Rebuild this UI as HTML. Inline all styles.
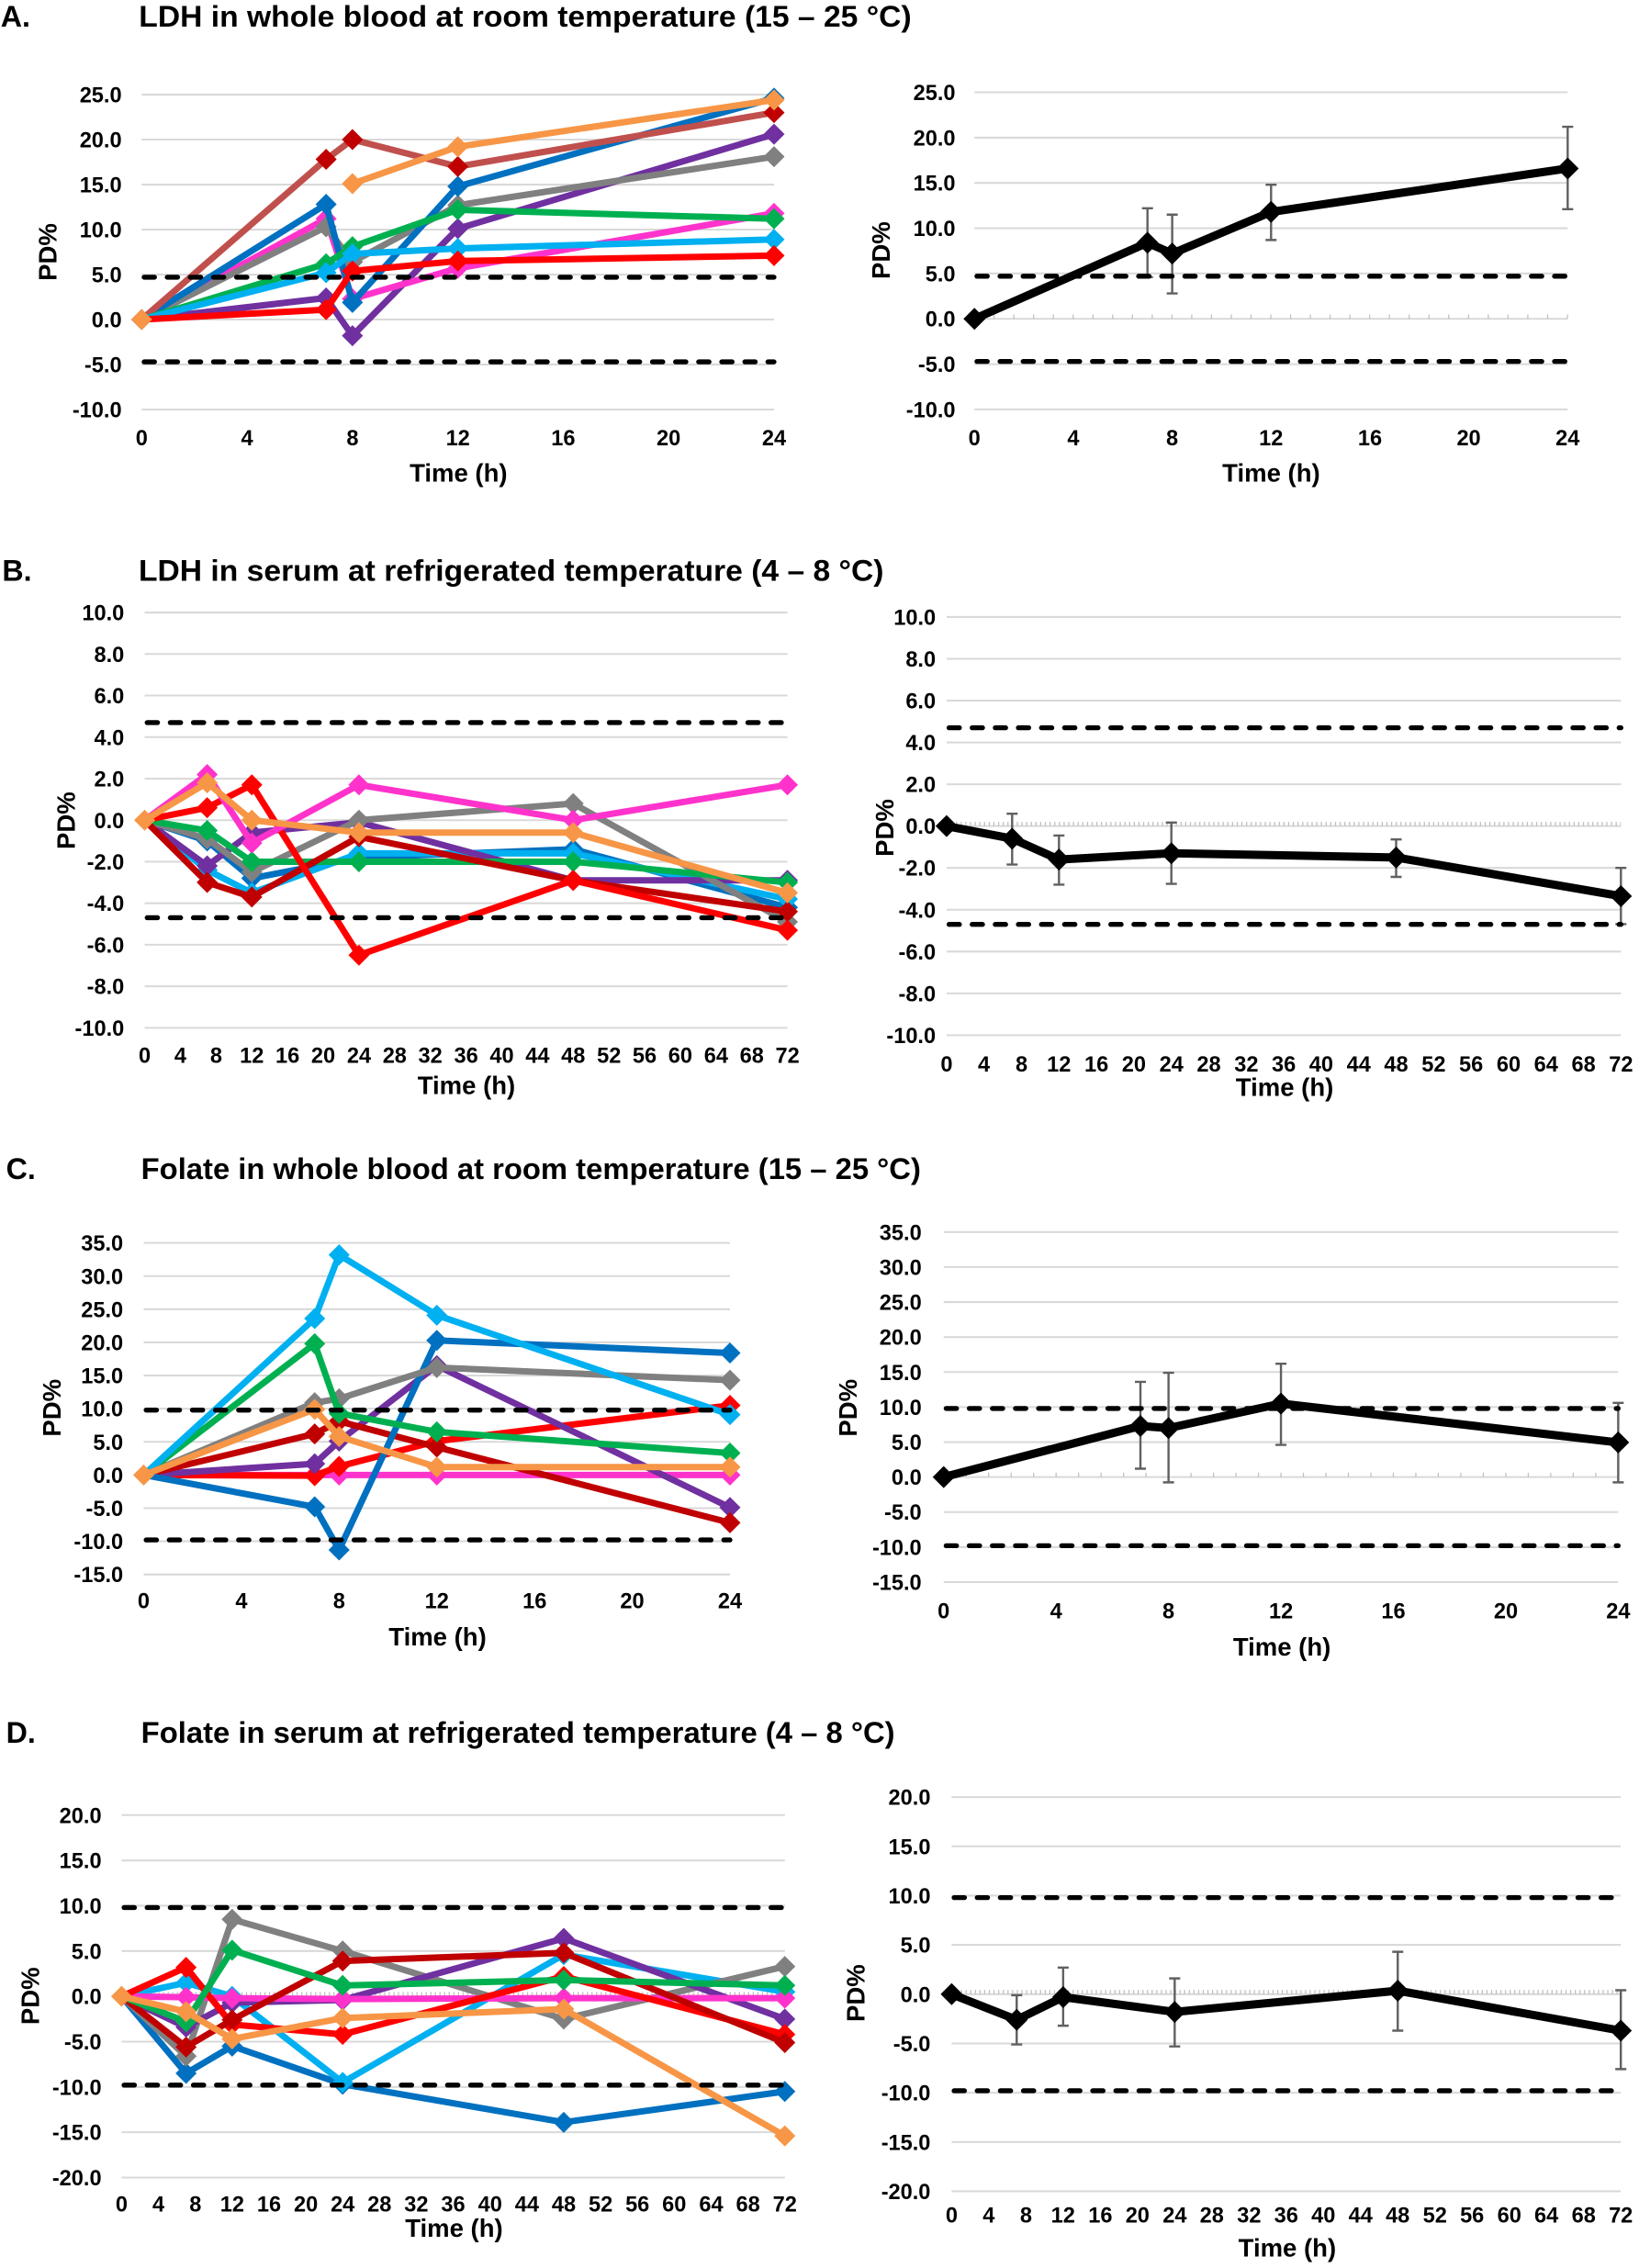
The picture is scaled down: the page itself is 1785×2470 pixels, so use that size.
<!DOCTYPE html>
<html><head><meta charset="utf-8">
<style>
html,body{margin:0;padding:0;background:#fff;}
svg{display:block}
text{font-family:"Liberation Sans",Arial,sans-serif;font-weight:bold;fill:#000}
.tk{font-size:15px}
.yl text{text-anchor:end}
.xl text{text-anchor:middle}
.ttl{font-size:20.5px}
.ax{font-size:17.5px;text-anchor:middle}
.grid{stroke:#D9D9D9;stroke-width:1.3;fill:none}
.dash{stroke:#000;stroke-width:3.4;stroke-dasharray:7.2 8.8;stroke-linecap:round;fill:none}
.s polyline{fill:none;vector-effect:non-scaling-stroke;stroke-width:7px;stroke-linejoin:round;stroke-linecap:round}
.m polyline{fill:none;vector-effect:non-scaling-stroke;stroke-width:9px;stroke-linejoin:round;stroke:#000}
.eb{fill:none;vector-effect:non-scaling-stroke;stroke:#606060;stroke-width:2.4px}
</style></head><body>
<svg width="1785" height="2470" viewBox="0 0 1785 2470" xmlns="http://www.w3.org/2000/svg" xmlns:xlink="http://www.w3.org/1999/xlink">
<defs>
<path id="mA" d="M-0.4008 0L0 1.1735 0.4008 0 0 -1.1735Z"/>
<path id="mB" d="M-1.1829 0L0 0.5085 1.1829 0 0 -0.5085Z"/>
<path id="mC" d="M-0.4322 0L0 1.5926 0.4322 0 0 -1.5926Z"/>
<path id="mD" d="M-1.1463 0L0 1.1654 1.1463 0 0 -1.1654Z"/>
<path id="rA" d="M-0.4458 0L0 1.2163 0.4458 0 0 -1.2163Z"/>
<path id="rB" d="M-1.1765 0L0 0.5269 1.1765 0 0 -0.5269Z"/>
<path id="rC" d="M-0.3920 0L0 1.5740 0.3920 0 0 -1.5740Z"/>
<path id="rD" d="M-1.1855 0L0 1.1180 1.1855 0 0 -1.1180Z"/>
</defs>
<rect width="1785" height="2470" fill="#fff"/>
<g transform="scale(1.572687 1.573248)">

<!-- ================= TITLES ================= -->
<text class="ttl" x="0.5" y="18.5">A.</text>
<text class="ttl" x="96.2" y="18.5" textLength="535" lengthAdjust="spacingAndGlyphs">LDH in whole blood at room temperature (15 – 25 °C)</text>
<text class="ttl" x="1.5" y="402">B.</text>
<text class="ttl" x="96" y="402" textLength="516" lengthAdjust="spacingAndGlyphs">LDH in serum at refrigerated temperature (4 – 8 °C)</text>
<text class="ttl" x="4.2" y="816">C.</text>
<text class="ttl" x="97.7" y="816" textLength="540" lengthAdjust="spacingAndGlyphs">Folate in whole blood at room temperature (15 – 25 °C)</text>
<text class="ttl" x="4.2" y="1206.5">D.</text>
<text class="ttl" x="97.7" y="1206.5" textLength="522" lengthAdjust="spacingAndGlyphs">Folate in serum at refrigerated temperature (4 – 8 °C)</text>

<!-- ================= PANEL A LEFT ================= -->
<path class="grid" d="M98.1 65.5H536M98.1 96.6H536M98.1 127.8H536M98.1 158.9H536M98.1 190.1H536M98.1 221.2H536M98.1 252.3H536M98.1 283.5H536"/>
<g class="tk yl">
<text x="84.3" y="70.9">25.0</text><text x="84.3" y="102">20.0</text><text x="84.3" y="133.2">15.0</text><text x="84.3" y="164.3">10.0</text><text x="84.3" y="195.5">5.0</text><text x="84.3" y="226.6">0.0</text><text x="84.3" y="257.7">-5.0</text><text x="84.3" y="288.9">-10.0</text>
</g>
<g class="tk xl">
<text x="98.1" y="308.4">0</text><text x="171.1" y="308.4">4</text><text x="244.1" y="308.4">8</text><text x="317.1" y="308.4">12</text><text x="390" y="308.4">16</text><text x="463" y="308.4">20</text><text x="536" y="308.4">24</text>
</g>
<text class="ax" x="317.5" y="333.3">Time (h)</text>
<text class="ax" transform="translate(32.7 174.5) rotate(-90)" y="6.3">PD%</text>

<!-- ================= PANEL A RIGHT ================= -->
<path class="grid" d="M674.8 63.9H1085.6M674.8 95.3H1085.6M674.8 126.6H1085.6M674.8 158H1085.6M674.8 189.3H1085.6M674.8 220.7H1085.6M674.8 252.1H1085.6M674.8 283.4H1085.6"/>
<path d="M674.3 219.2H1086.1" stroke="#BFBFBF" stroke-width="3" stroke-dasharray="0.8 12.89" fill="none"/>
<g class="tk yl">
<text x="661.6" y="69.3">25.0</text><text x="661.6" y="100.7">20.0</text><text x="661.6" y="132">15.0</text><text x="661.6" y="163.4">10.0</text><text x="661.6" y="194.7">5.0</text><text x="661.6" y="226.1">0.0</text><text x="661.6" y="257.5">-5.0</text><text x="661.6" y="288.8">-10.0</text>
</g>
<g class="tk xl">
<text x="674.8" y="308.4">0</text><text x="743.3" y="308.4">4</text><text x="811.7" y="308.4">8</text><text x="880.2" y="308.4">12</text><text x="948.7" y="308.4">16</text><text x="1017.1" y="308.4">20</text><text x="1085.6" y="308.4">24</text>
</g>
<text class="ax" x="880.3" y="333.3">Time (h)</text>
<text class="ax" transform="translate(609.8 173.3) rotate(-90)" y="6.3">PD%</text>

<!-- ================= PANEL B LEFT ================= -->
<path class="grid" d="M100.2 424H545.3M100.2 452.75H545.3M100.2 481.5H545.3M100.2 510.25H545.3M100.2 539H545.3M100.2 567.75H545.3M100.2 596.5H545.3M100.2 625.25H545.3M100.2 654H545.3M100.2 682.75H545.3M100.2 711.5H545.3"/>
<g class="tk yl">
<text x="86" y="429.4">10.0</text><text x="86" y="458.2">8.0</text><text x="86" y="486.9">6.0</text><text x="86" y="515.7">4.0</text><text x="86" y="544.4">2.0</text><text x="86" y="573.2">0.0</text><text x="86" y="601.9">-2.0</text><text x="86" y="630.7">-4.0</text><text x="86" y="659.4">-6.0</text><text x="86" y="688.2">-8.0</text><text x="86" y="716.9">-10.0</text>
</g>
<g class="tk xl">
<text x="100.2" y="735.8">0</text><text x="124.9" y="735.8">4</text><text x="149.7" y="735.8">8</text><text x="174.4" y="735.8">12</text><text x="199.1" y="735.8">16</text><text x="223.8" y="735.8">20</text><text x="248.6" y="735.8">24</text><text x="273.3" y="735.8">28</text><text x="298" y="735.8">32</text><text x="322.8" y="735.8">36</text><text x="347.5" y="735.8">40</text><text x="372.2" y="735.8">44</text><text x="396.9" y="735.8">48</text><text x="421.7" y="735.8">52</text><text x="446.4" y="735.8">56</text><text x="471.1" y="735.8">60</text><text x="495.9" y="735.8">64</text><text x="520.6" y="735.8">68</text><text x="545.3" y="735.8">72</text>
</g>
<text class="ax" x="323" y="757.3">Time (h)</text>
<text class="ax" transform="translate(45.5 568) rotate(-90)" y="6.3">PD%</text>

<!-- ================= PANEL B RIGHT ================= -->
<path class="grid" d="M655.5 427.1H1122.5M655.5 456.05H1122.5M655.5 485H1122.5M655.5 513.95H1122.5M655.5 542.9H1122.5M655.5 571.85H1122.5M655.5 600.8H1122.5M655.5 629.75H1122.5M655.5 658.7H1122.5M655.5 687.65H1122.5M655.5 716.6H1122.5"/>
<path d="M655.5 570.35H1122.5" stroke="#BFBFBF" stroke-width="3" stroke-dasharray="0.8 2.44" fill="none"/>
<g class="tk yl">
<text x="648" y="432.5">10.0</text><text x="648" y="461.5">8.0</text><text x="648" y="490.4">6.0</text><text x="648" y="519.4">4.0</text><text x="648" y="548.3">2.0</text><text x="648" y="577.3">0.0</text><text x="648" y="606.2">-2.0</text><text x="648" y="635.2">-4.0</text><text x="648" y="664.1">-6.0</text><text x="648" y="693.1">-8.0</text><text x="648" y="722">-10.0</text>
</g>
<g class="tk xl">
<text x="655.5" y="741.8">0</text><text x="681.4" y="741.8">4</text><text x="707.4" y="741.8">8</text><text x="733.3" y="741.8">12</text><text x="759.3" y="741.8">16</text><text x="785.2" y="741.8">20</text><text x="811.2" y="741.8">24</text><text x="837.1" y="741.8">28</text><text x="863.1" y="741.8">32</text><text x="889" y="741.8">36</text><text x="914.9" y="741.8">40</text><text x="940.9" y="741.8">44</text><text x="966.8" y="741.8">48</text><text x="992.8" y="741.8">52</text><text x="1018.7" y="741.8">56</text><text x="1044.7" y="741.8">60</text><text x="1070.6" y="741.8">64</text><text x="1096.6" y="741.8">68</text><text x="1122.5" y="741.8">72</text>
</g>
<text class="ax" x="889.6" y="758.5">Time (h)</text>
<text class="ax" transform="translate(612.3 573) rotate(-90)" y="6.3">PD%</text>

<!-- ================= PANEL C LEFT ================= -->
<path class="grid" d="M99.5 860.4H505.5M99.5 883.35H505.5M99.5 906.3H505.5M99.5 929.25H505.5M99.5 952.2H505.5M99.5 975.15H505.5M99.5 998.1H505.5M99.5 1021.05H505.5M99.5 1044H505.5M99.5 1066.95H505.5M99.5 1089.9H505.5"/>
<g class="tk yl">
<text x="85.3" y="865.8">35.0</text><text x="85.3" y="888.8">30.0</text><text x="85.3" y="911.7">25.0</text><text x="85.3" y="934.7">20.0</text><text x="85.3" y="957.6">15.0</text><text x="85.3" y="980.6">10.0</text><text x="85.3" y="1003.5">5.0</text><text x="85.3" y="1026.5">0.0</text><text x="85.3" y="1049.4">-5.0</text><text x="85.3" y="1072.4">-10.0</text><text x="85.3" y="1095.3">-15.0</text>
</g>
<g class="tk xl">
<text x="99.5" y="1113.4">0</text><text x="167.2" y="1113.4">4</text><text x="234.8" y="1113.4">8</text><text x="302.5" y="1113.4">12</text><text x="370.2" y="1113.4">16</text><text x="437.8" y="1113.4">20</text><text x="505.5" y="1113.4">24</text>
</g>
<text class="ax" x="303" y="1139">Time (h)</text>
<text class="ax" transform="translate(35.5 974.6) rotate(-90)" y="6.3">PD%</text>

<!-- ================= PANEL C RIGHT ================= -->
<path class="grid" d="M653.5 852.9H1120.6M653.5 877.1H1120.6M653.5 901.35H1120.6M653.5 925.6H1120.6M653.5 949.8H1120.6M653.5 974H1120.6M653.5 998.3H1120.6M653.5 1022.5H1120.6M653.5 1046.7H1120.6M653.5 1071H1120.6M653.5 1095.2H1120.6"/>
<path d="M653.1 1021H1121" stroke="#BFBFBF" stroke-width="3" stroke-dasharray="0.8 14.77" fill="none"/>
<g class="tk yl">
<text x="638.2" y="858.3">35.0</text><text x="638.2" y="882.5">30.0</text><text x="638.2" y="906.8">25.0</text><text x="638.2" y="931">20.0</text><text x="638.2" y="955.2">15.0</text><text x="638.2" y="979.4">10.0</text><text x="638.2" y="1003.7">5.0</text><text x="638.2" y="1027.9">0.0</text><text x="638.2" y="1052.1">-5.0</text><text x="638.2" y="1076.4">-10.0</text><text x="638.2" y="1100.6">-15.0</text>
</g>
<g class="tk xl">
<text x="653.5" y="1120.4">0</text><text x="731.4" y="1120.4">4</text><text x="809.2" y="1120.4">8</text><text x="887.1" y="1120.4">12</text><text x="964.9" y="1120.4">16</text><text x="1042.8" y="1120.4">20</text><text x="1120.6" y="1120.4">24</text>
</g>
<text class="ax" x="887.7" y="1146">Time (h)</text>
<text class="ax" transform="translate(587 974.6) rotate(-90)" y="6.3">PD%</text>

<!-- ================= PANEL D LEFT ================= -->
<path class="grid" d="M84.2 1256.5H543.5M84.2 1287.9H543.5M84.2 1319.2H543.5M84.2 1350.6H543.5M84.2 1381.95H543.5M84.2 1413.3H543.5M84.2 1444.7H543.5M84.2 1476H543.5M84.2 1507.4H543.5"/>
<path d="M84.2 1380.45H543.5" stroke="#BFBFBF" stroke-width="3" stroke-dasharray="0.8 2.39" fill="none"/>
<g class="tk yl">
<text x="70.3" y="1261.9">20.0</text><text x="70.3" y="1293.3">15.0</text><text x="70.3" y="1324.6">10.0</text><text x="70.3" y="1356">5.0</text><text x="70.3" y="1387.4">0.0</text><text x="70.3" y="1418.7">-5.0</text><text x="70.3" y="1450.1">-10.0</text><text x="70.3" y="1481.4">-15.0</text><text x="70.3" y="1512.8">-20.0</text>
</g>
<g class="tk xl">
<text x="84.2" y="1531">0</text><text x="109.7" y="1531">4</text><text x="135.3" y="1531">8</text><text x="160.8" y="1531">12</text><text x="186.3" y="1531">16</text><text x="211.8" y="1531">20</text><text x="237.3" y="1531">24</text><text x="262.8" y="1531">28</text><text x="288.3" y="1531">32</text><text x="313.8" y="1531">36</text><text x="339.4" y="1531">40</text><text x="364.9" y="1531">44</text><text x="390.4" y="1531">48</text><text x="415.9" y="1531">52</text><text x="441.4" y="1531">56</text><text x="466.9" y="1531">60</text><text x="492.5" y="1531">64</text><text x="518" y="1531">68</text><text x="543.5" y="1531">72</text>
</g>
<text class="ax" x="314.4" y="1548.3">Time (h)</text>
<text class="ax" transform="translate(20.6 1381.7) rotate(-90)" y="6.3">PD%</text>

<!-- ================= PANEL D RIGHT ================= -->
<path class="grid" d="M659 1244H1122.4M659 1278.1H1122.4M659 1312.2H1122.4M659 1346.3H1122.4M659 1380.45H1122.4M659 1414.6H1122.4M659 1448.7H1122.4M659 1482.8H1122.4M659 1516.9H1122.4"/>
<path d="M659 1378.95H1122.4" stroke="#BFBFBF" stroke-width="3" stroke-dasharray="0.8 2.42" fill="none"/>
<g class="tk yl">
<text x="644.4" y="1249.4">20.0</text><text x="644.4" y="1283.5">15.0</text><text x="644.4" y="1317.6">10.0</text><text x="644.4" y="1351.7">5.0</text><text x="644.4" y="1385.9">0.0</text><text x="644.4" y="1420">-5.0</text><text x="644.4" y="1454.1">-10.0</text><text x="644.4" y="1488.2">-15.0</text><text x="644.4" y="1522.3">-20.0</text>
</g>
<g class="tk xl">
<text x="659" y="1538.4">0</text><text x="684.7" y="1538.4">4</text><text x="710.5" y="1538.4">8</text><text x="736.2" y="1538.4">12</text><text x="762" y="1538.4">16</text><text x="787.7" y="1538.4">20</text><text x="813.5" y="1538.4">24</text><text x="839.2" y="1538.4">28</text><text x="865" y="1538.4">32</text><text x="890.7" y="1538.4">36</text><text x="916.4" y="1538.4">40</text><text x="942.2" y="1538.4">44</text><text x="967.9" y="1538.4">48</text><text x="993.7" y="1538.4">52</text><text x="1019.4" y="1538.4">56</text><text x="1045.2" y="1538.4">60</text><text x="1070.9" y="1538.4">64</text><text x="1096.7" y="1538.4">68</text><text x="1122.4" y="1538.4">72</text>
</g>
<text class="ax" x="891.4" y="1562">Time (h)</text>
<text class="ax" transform="translate(592.5 1379.7) rotate(-90)" y="6.3">PD%</text>
</g>

<!-- ================= DATA (actual-pixel transforms) ================= -->
<!-- A left -->
<g class="s" transform="translate(154.28 348.0) scale(28.695 -9.800)">
<polyline stroke="#7030A0" points="0,0 7,2.4 8,-1.8 12,10.1 24,20.6"/>
<g fill="#7030A0"><use href="#mA" x="0" y="0"/><use href="#mA" x="7" y="2.4"/><use href="#mA" x="8" y="-1.8"/><use href="#mA" x="12" y="10.1"/><use href="#mA" x="24" y="20.6"/></g>
<polyline stroke="#FF33CC" points="0,0 7,11.2 8,2.3 12,5.7 24,11.8"/>
<g fill="#FF33CC"><use href="#mA" x="7" y="11.2"/><use href="#mA" x="8" y="2.3"/><use href="#mA" x="12" y="5.7"/><use href="#mA" x="24" y="11.8"/></g>
<polyline stroke="#808080" points="0,0 7,10.3 8,6.4 12,12.7 24,18.1"/>
<g fill="#808080"><use href="#mA" x="7" y="10.3"/><use href="#mA" x="8" y="6.4"/><use href="#mA" x="12" y="12.7"/><use href="#mA" x="24" y="18.1"/></g>
<polyline stroke="#0070C0" points="0,0 7,12.8 8,1.9 12,14.8 24,24.6"/>
<g fill="#0070C0"><use href="#mA" x="7" y="12.8"/><use href="#mA" x="8" y="1.9"/><use href="#mA" x="12" y="14.8"/><use href="#mA" x="24" y="24.6"/></g>
<polyline stroke="#C0504D" points="0,0 7,17.8 8,20 12,17 24,23"/>
<g fill="#C00000"><use href="#mA" x="7" y="17.8"/><use href="#mA" x="8" y="20"/><use href="#mA" x="12" y="17"/><use href="#mA" x="24" y="23"/></g>
<polyline stroke="#00B050" points="0,0 7,6.2 8,8.1 12,12.2 24,11.2"/>
<g fill="#00B050"><use href="#mA" x="7" y="6.2"/><use href="#mA" x="8" y="8.1"/><use href="#mA" x="12" y="12.2"/><use href="#mA" x="24" y="11.2"/></g>
<polyline stroke="#00B0F0" points="0,0 7,5.2 8,7.3 12,7.9 24,8.9"/>
<g fill="#00B0F0"><use href="#mA" x="7" y="5.2"/><use href="#mA" x="8" y="7.3"/><use href="#mA" x="12" y="7.9"/><use href="#mA" x="24" y="8.9"/></g>
<polyline stroke="#FF0000" points="0,0 7,1.1 8,5.4 12,6.5 24,7.1"/>
<g fill="#FF0000"><use href="#mA" x="7" y="1.1"/><use href="#mA" x="8" y="5.4"/><use href="#mA" x="12" y="6.5"/><use href="#mA" x="24" y="7.1"/></g>
<polyline stroke="#F79646" points="8,15.1 12,19.2 24,24.4"/>
<g fill="#F79646"><use href="#mA" x="0" y="0"/><use href="#mA" x="8" y="15.1"/><use href="#mA" x="12" y="19.2"/><use href="#mA" x="24" y="24.4"/></g>
</g>

<!-- A right -->
<g class="m" transform="translate(1061.25 347.22) scale(26.92 -9.866)">
<path class="eb" d="M7 4.6V12.2M6.777 12.2H7.223M6.777 4.6H7.223M8 2.8V11.5M7.777 11.5H8.223M7.777 2.8H8.223M12 8.7V14.8M11.777 14.8H12.223M11.777 8.7H12.223M24 12.1V21.2M23.777 21.2H24.223M23.777 12.1H24.223"/>
<polyline points="0,0 7,8.4 8,7.2 12,11.8 24,16.6"/>
<g fill="#000"><use href="#rA" x="0" y="0"/><use href="#rA" x="7" y="8.4"/><use href="#rA" x="8" y="7.2"/><use href="#rA" x="12" y="11.8"/><use href="#rA" x="24" y="16.6"/></g>
</g>

<!-- B left -->
<g class="s" transform="translate(157.58 893.21) scale(9.722 -22.615)">
<polyline stroke="#0070C0" points="0,0 7,-1 12,-2.8 24,-1.8 48,-1.4 72,-4.2"/>
<g fill="#0070C0"><use href="#mB" x="7" y="-1"/><use href="#mB" x="12" y="-2.8"/><use href="#mB" x="24" y="-1.8"/><use href="#mB" x="48" y="-1.4"/><use href="#mB" x="72" y="-4.2"/></g>
<polyline stroke="#00B0F0" points="0,0 7,-2.4 12,-3.5 24,-1.6 48,-1.6 72,-3.8"/>
<g fill="#00B0F0"><use href="#mB" x="7" y="-2.4"/><use href="#mB" x="12" y="-3.5"/><use href="#mB" x="24" y="-1.6"/><use href="#mB" x="48" y="-1.6"/><use href="#mB" x="72" y="-3.8"/></g>
<polyline stroke="#7030A0" points="0,0 7,-2.2 12,-0.6 24,-0.1 48,-2.9 72,-2.9"/>
<g fill="#7030A0"><use href="#mB" x="7" y="-2.2"/><use href="#mB" x="12" y="-0.6"/><use href="#mB" x="24" y="-0.1"/><use href="#mB" x="48" y="-2.9"/><use href="#mB" x="72" y="-2.9"/></g>
<polyline stroke="#808080" points="0,0 7,-0.9 12,-2.5 24,0 48,0.8 72,-4.9"/>
<g fill="#808080"><use href="#mB" x="7" y="-0.9"/><use href="#mB" x="12" y="-2.5"/><use href="#mB" x="24" y="0"/><use href="#mB" x="48" y="0.8"/><use href="#mB" x="72" y="-4.9"/></g>
<polyline stroke="#00B050" points="0,0 7,-0.5 12,-2 24,-2 48,-2 72,-3"/>
<g fill="#00B050"><use href="#mB" x="7" y="-0.5"/><use href="#mB" x="12" y="-2"/><use href="#mB" x="24" y="-2"/><use href="#mB" x="48" y="-2"/><use href="#mB" x="72" y="-3"/></g>
<polyline stroke="#C00000" points="0,0 7,-3 12,-3.7 24,-0.8 48,-2.9 72,-4.4"/>
<g fill="#C00000"><use href="#mB" x="7" y="-3"/><use href="#mB" x="12" y="-3.7"/><use href="#mB" x="24" y="-0.8"/><use href="#mB" x="48" y="-2.9"/><use href="#mB" x="72" y="-4.4"/></g>
<polyline stroke="#FF0000" points="0,0 7,0.6 12,1.7 24,-6.5 48,-2.9 72,-5.3"/>
<g fill="#FF0000"><use href="#mB" x="7" y="0.6"/><use href="#mB" x="12" y="1.7"/><use href="#mB" x="24" y="-6.5"/><use href="#mB" x="48" y="-2.9"/><use href="#mB" x="72" y="-5.3"/></g>
<polyline stroke="#FF33CC" points="0,0 7,2.2 12,-1.1 24,1.7 48,0 72,1.7"/>
<g fill="#FF33CC"><use href="#mB" x="7" y="2.2"/><use href="#mB" x="12" y="-1.1"/><use href="#mB" x="24" y="1.7"/><use href="#mB" x="48" y="0"/><use href="#mB" x="72" y="1.7"/></g>
<polyline stroke="#F79646" points="0,0 7,1.8 12,0 24,-0.6 48,-0.6 72,-3.5"/>
<g fill="#F79646"><use href="#mB" x="0" y="0"/><use href="#mB" x="7" y="1.8"/><use href="#mB" x="12" y="0"/><use href="#mB" x="24" y="-0.6"/><use href="#mB" x="48" y="-0.6"/><use href="#mB" x="72" y="-3.5"/></g>
</g>

<!-- B right -->
<g class="m" transform="translate(1030.90 899.66) scale(10.200 -22.773)">
<path class="eb" d="M7 -1.84V0.59M6.412 0.59H7.588M6.412 -1.84H7.588M12 -2.8V-0.45M11.412 -0.45H12.588M11.412 -2.8H12.588M24 -2.76V0.17M23.412 0.17H24.588M23.412 -2.76H24.588M48 -2.43V-0.64M47.412 -0.64H48.588M47.412 -2.43H48.588M72 -4.69V-2M71.412 -2H72.588M71.412 -4.69H72.588"/>
<polyline points="0,0 7,-0.6 12,-1.6 24,-1.3 48,-1.5 72,-3.35"/>
<g fill="#000"><use href="#rB" x="0" y="0"/><use href="#rB" x="7" y="-0.6"/><use href="#rB" x="12" y="-1.6"/><use href="#rB" x="24" y="-1.3"/><use href="#rB" x="48" y="-1.5"/><use href="#rB" x="72" y="-3.35"/></g>
</g>

<!-- C left -->
<g class="s" transform="translate(156.48 1606.36) scale(26.605 -7.221)">
<polyline stroke="#FF33CC" points="0,0 7,0 8,0 12,0 24,0"/>
<g fill="#FF33CC"><use href="#mC" x="7" y="0"/><use href="#mC" x="8" y="0"/><use href="#mC" x="12" y="0"/><use href="#mC" x="24" y="0"/></g>
<polyline stroke="#FF0000" points="0,0 7,-0.1 8,1.3 12,5.1 24,10.5"/>
<g fill="#FF0000"><use href="#mC" x="7" y="-0.1"/><use href="#mC" x="8" y="1.3"/><use href="#mC" x="12" y="5.1"/><use href="#mC" x="24" y="10.5"/></g>
<polyline stroke="#7030A0" points="0,0 7,1.7 8,5.1 12,16.5 24,-4.9"/>
<g fill="#7030A0"><use href="#mC" x="7" y="1.7"/><use href="#mC" x="8" y="5.1"/><use href="#mC" x="12" y="16.5"/><use href="#mC" x="24" y="-4.9"/></g>
<polyline stroke="#C00000" points="0,0 7,6.2 8,8.1 12,4.2 24,-7.2"/>
<g fill="#C00000"><use href="#mC" x="7" y="6.2"/><use href="#mC" x="8" y="8.1"/><use href="#mC" x="12" y="4.2"/><use href="#mC" x="24" y="-7.2"/></g>
<polyline stroke="#0070C0" points="0,0 7,-4.8 8,-11.3 12,20.3 24,18.4"/>
<g fill="#0070C0"><use href="#mC" x="7" y="-4.8"/><use href="#mC" x="8" y="-11.3"/><use href="#mC" x="12" y="20.3"/><use href="#mC" x="24" y="18.4"/></g>
<polyline stroke="#808080" points="0,0 7,10.9 8,11.5 12,16.2 24,14.3"/>
<g fill="#808080"><use href="#mC" x="7" y="10.9"/><use href="#mC" x="8" y="11.5"/><use href="#mC" x="12" y="16.2"/><use href="#mC" x="24" y="14.3"/></g>
<polyline stroke="#00B050" points="0,0 7,19.8 8,9.3 12,6.5 24,3.3"/>
<g fill="#00B050"><use href="#mC" x="7" y="19.8"/><use href="#mC" x="8" y="9.3"/><use href="#mC" x="12" y="6.5"/><use href="#mC" x="24" y="3.3"/></g>
<polyline stroke="#00B0F0" points="0,0 7,23.6 8,33.2 12,24.1 24,9.1"/>
<g fill="#00B0F0"><use href="#mC" x="7" y="23.6"/><use href="#mC" x="8" y="33.2"/><use href="#mC" x="12" y="24.1"/><use href="#mC" x="24" y="9.1"/></g>
<polyline stroke="#F79646" points="0,0 7,9.9 8,5.8 12,1.2 24,1.2"/>
<g fill="#F79646"><use href="#mC" x="0" y="0"/><use href="#mC" x="7" y="9.9"/><use href="#mC" x="8" y="5.8"/><use href="#mC" x="12" y="1.2"/><use href="#mC" x="24" y="1.2"/></g>
</g>

<!-- C right -->
<g class="m" transform="translate(1027.75 1608.65) scale(30.609 -7.624)">
<path class="eb" d="M7 1.2V13.6M6.804 13.6H7.196M6.804 1.2H7.196M8 -0.75V14.9M7.804 14.9H8.196M7.804 -0.75H8.196M12 4.6V16.2M11.804 16.2H12.196M11.804 4.6H12.196M24 -0.75V10.6M23.804 10.6H24.196M23.804 -0.75H24.196"/>
<polyline points="0,0 7,7.3 8,7 12,10.5 24,4.95"/>
<g fill="#000"><use href="#rC" x="0" y="0"/><use href="#rC" x="7" y="7.3"/><use href="#rC" x="8" y="7"/><use href="#rC" x="12" y="10.5"/><use href="#rC" x="24" y="4.95"/></g>
</g>

<!-- D left -->
<g class="s" transform="translate(132.42 2174.15) scale(10.032 -9.868)">
<polyline stroke="#0070C0" points="0,0 7,-8.5 12,-5.5 24,-9.7 48,-13.9 72,-10.5"/>
<g fill="#0070C0"><use href="#mD" x="7" y="-8.5"/><use href="#mD" x="12" y="-5.5"/><use href="#mD" x="24" y="-9.7"/><use href="#mD" x="48" y="-13.9"/><use href="#mD" x="72" y="-10.5"/></g>
<polyline stroke="#00B0F0" points="0,0 7,1.5 12,0 24,-9.5 48,4.6 72,0.5"/>
<g fill="#00B0F0"><use href="#mD" x="7" y="1.5"/><use href="#mD" x="12" y="0"/><use href="#mD" x="24" y="-9.5"/><use href="#mD" x="48" y="4.6"/><use href="#mD" x="72" y="0.5"/></g>
<polyline stroke="#808080" points="0,0 7,-6.6 12,8.5 24,5 48,-2.5 72,3.3"/>
<g fill="#808080"><use href="#mD" x="7" y="-6.6"/><use href="#mD" x="12" y="8.5"/><use href="#mD" x="24" y="5"/><use href="#mD" x="48" y="-2.5"/><use href="#mD" x="72" y="3.3"/></g>
<polyline stroke="#7030A0" points="0,0 7,-3.4 12,-0.7 24,-0.4 48,6.4 72,-2.5"/>
<g fill="#7030A0"><use href="#mD" x="7" y="-3.4"/><use href="#mD" x="12" y="-0.7"/><use href="#mD" x="24" y="-0.4"/><use href="#mD" x="48" y="6.4"/><use href="#mD" x="72" y="-2.5"/></g>
<polyline stroke="#FF33CC" points="0,0 7,-0.1 12,-0.2 24,-0.3 48,-0.2 72,-0.2"/>
<g fill="#FF33CC"><use href="#mD" x="7" y="-0.1"/><use href="#mD" x="12" y="-0.2"/><use href="#mD" x="24" y="-0.3"/><use href="#mD" x="48" y="-0.2"/><use href="#mD" x="72" y="-0.2"/></g>
<polyline stroke="#FF0000" points="0,0 7,3.2 12,-3.1 24,-4.2 48,2.2 72,-4.2"/>
<g fill="#FF0000"><use href="#mD" x="7" y="3.2"/><use href="#mD" x="12" y="-3.1"/><use href="#mD" x="24" y="-4.2"/><use href="#mD" x="48" y="2.2"/><use href="#mD" x="72" y="-4.2"/></g>
<polyline stroke="#C00000" points="0,0 7,-5.6 12,-2.6 24,3.9 48,4.8 72,-5.1"/>
<g fill="#C00000"><use href="#mD" x="7" y="-5.6"/><use href="#mD" x="12" y="-2.6"/><use href="#mD" x="24" y="3.9"/><use href="#mD" x="48" y="4.8"/><use href="#mD" x="72" y="-5.1"/></g>
<polyline stroke="#00B050" points="0,0 7,-2.8 12,5.1 24,1.2 48,1.8 72,1.2"/>
<g fill="#00B050"><use href="#mD" x="7" y="-2.8"/><use href="#mD" x="12" y="5.1"/><use href="#mD" x="24" y="1.2"/><use href="#mD" x="48" y="1.8"/><use href="#mD" x="72" y="1.2"/></g>
<polyline stroke="#F79646" points="0,0 7,-1.7 12,-4.7 24,-2.4 48,-1.4 72,-15.4"/>
<g fill="#F79646"><use href="#mD" x="0" y="0"/><use href="#mD" x="7" y="-1.7"/><use href="#mD" x="12" y="-4.7"/><use href="#mD" x="24" y="-2.4"/><use href="#mD" x="48" y="-1.4"/><use href="#mD" x="72" y="-15.4"/></g>
</g>

<!-- D right -->
<g class="m" transform="translate(1036.40 2171.79) scale(10.122 -10.7335)">
<path class="eb" d="M7 -5.1V-0.1M6.407 -0.1H7.593M6.407 -5.1H7.593M12 -3.2V2.7M11.407 2.7H12.593M11.407 -3.2H12.593M24 -5.3V1.6M23.407 1.6H24.593M23.407 -5.3H24.593M48 -3.7V4.3M47.407 4.3H48.593M47.407 -3.7H48.593M72 -7.6V0.4M71.407 0.4H72.593M71.407 -7.6H72.593"/>
<polyline points="0,0 7,-2.6 12,-0.3 24,-1.8 48,0.35 72,-3.7"/>
<g fill="#000"><use href="#rD" x="0" y="0"/><use href="#rD" x="7" y="-2.6"/><use href="#rD" x="12" y="-0.3"/><use href="#rD" x="24" y="-1.8"/><use href="#rD" x="48" y="0.35"/><use href="#rD" x="72" y="-3.7"/></g>
</g>

<!-- ================= DASHED LIMIT LINES ================= -->
<g transform="scale(1.572687 1.573248)">
<path class="dash" d="M99.8 191.9H536M99.8 250.5H536"/>
<path class="dash" d="M676.5 191.2H1085.6M676.5 250.2H1085.6"/>
<path class="dash" d="M101.9 500.2H545.3M101.9 635.3H545.3"/>
<path class="dash" d="M657.2 503.8H1122.5M657.2 639.9H1122.5"/>
<path class="dash" d="M101.2 976.1H505.5M101.2 1066H505.5"/>
<path class="dash" d="M655.2 975H1120.6M655.2 1070H1120.6"/>
<path class="dash" d="M85.9 1320.5H543.5M85.9 1443.4H543.5"/>
<path class="dash" d="M660.7 1313.6H1122.4M660.7 1447.3H1122.4"/>
</g>
</svg>
</body></html>
